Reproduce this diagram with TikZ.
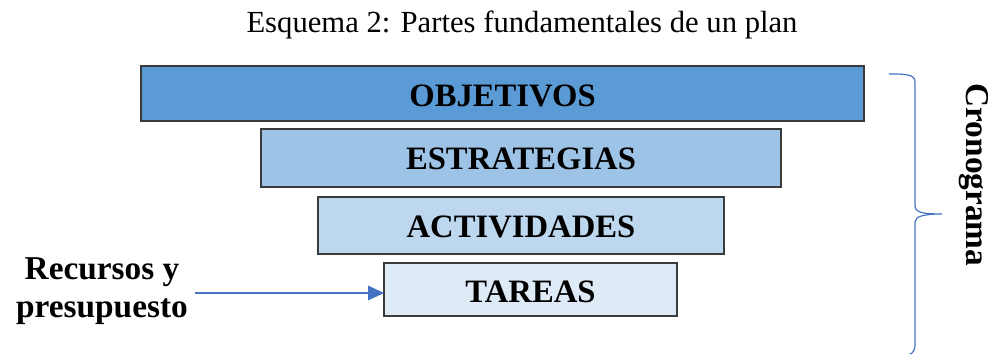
\documentclass[tikz,border=0pt]{standalone}
\usepackage{fontspec}
\setmainfont{Liberation Serif}
\usetikzlibrary{arrows.meta}
\definecolor{c1}{HTML}{5B9BD5}
\definecolor{c2}{HTML}{9DC3E6}
\definecolor{c3}{HTML}{BDD7EE}
\definecolor{c4}{HTML}{DEEBF7}
\definecolor{bl}{HTML}{4472C4}
\definecolor{edge}{HTML}{3A3A3A}
\begin{document}
\begin{tikzpicture}[x=0.75pt,y=-0.75pt,
  level/.style={draw=edge,line width=1.1pt,font=\fontsize{24.5}{28}\selectfont\bfseries},
  side/.style={font=\fontsize{25}{28.5}\selectfont\bfseries,align=center,inner sep=0pt}]
\useasboundingbox (0,0) rectangle (994,354);
\node[font=\fontsize{23}{26}\selectfont] (title) at (522,25) {Esquema 2: Partes fundamentales de un plan};
\path[level,fill=c1] (141,66) rectangle (864,121);
\node[level,draw=none] (obj) at (502.5,96) {OBJETIVOS};
\path[level,fill=c2] (261,129) rectangle (781,187);
\node[level,draw=none] (est) at (521,159) {ESTRATEGIAS};
\path[level,fill=c3] (318,197) rectangle (724,254);
\node[level,draw=none] (act) at (521,227) {ACTIVIDADES};
\path[level,fill=c4] (384,263) rectangle (677,316);
\coordinate (tarL) at (384,293);
\node[level,draw=none] (tar) at (530.5,292) {TAREAS};
\node[side] (rec) at (102,291) {Recursos y\\presupuesto};
\coordinate (recE) at (195,293);
\draw[bl,line width=0.9pt,-{Triangle[length=12pt,width=11pt]}] (recE) -- (tarL);
\draw[bl,line width=0.9pt] (889,74) .. controls (905,74) and (915,74) .. (915,82)
  -- (915,206) .. controls (915,213) and (925,214) .. (942,214)
  (942,214) .. controls (925,214) and (915,216) .. (915,222)
  -- (915,345) .. controls (915,350) and (913,353) .. (910,354);
\node[side,rotate=-90] (cro) at (974,175) {Cronograma};
\end{tikzpicture}
\end{document}
